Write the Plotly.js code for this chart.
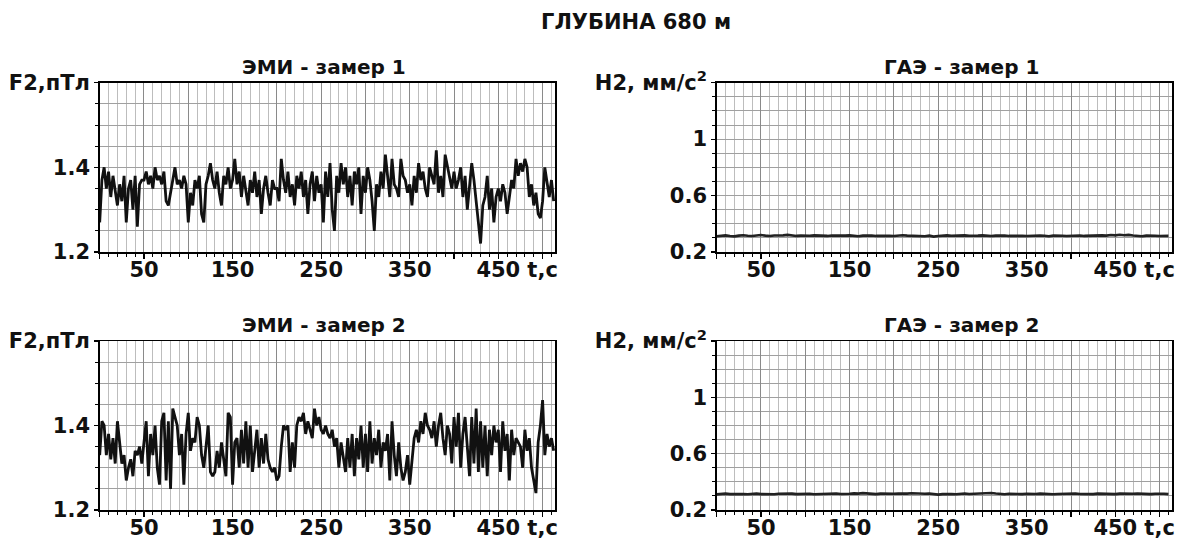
<!DOCTYPE html>
<html>
<head>
<meta charset="utf-8">
<script src="https://cdn.plot.ly/plotly-3.0.1.min.js"></script>
<style>
html,body{margin:0;padding:0;background:#fff;}
#chart{width:1186px;height:539px;}
</style>
</head>
<body>
<div id="chart"></div>
<script>
// ---- data ----
const mainTitle = "ГЛУБИНА 680 м";
const panelTitles = ["ЭМИ - замер 1", "ГАЭ - замер 1", "ЭМИ - замер 2", "ГАЭ - замер 2"];
const emiStep = 2.5;   // s between samples
const gaeStep = 5;     // s between samples

const emi1 = [
1.27,1.37,1.40,1.35,1.39,1.33,1.38,1.34,1.31,1.36,
1.32,1.38,1.27,1.35,1.37,1.30,1.38,1.26,1.36,1.37,
1.37,1.39,1.36,1.38,1.35,1.40,1.37,1.38,1.36,1.39,
1.32,1.31,1.34,1.38,1.40,1.36,1.37,1.35,1.38,1.36,
1.27,1.34,1.31,1.37,1.35,1.38,1.29,1.27,1.36,1.38,
1.41,1.37,1.35,1.39,1.34,1.31,1.38,1.36,1.40,1.35,
1.37,1.42,1.36,1.39,1.33,1.38,1.35,1.31,1.37,1.34,
1.39,1.33,1.37,1.29,1.35,1.38,1.34,1.31,1.37,1.35,
1.35,1.32,1.42,1.37,1.34,1.39,1.33,1.36,1.31,1.38,
1.35,1.39,1.33,1.37,1.29,1.36,1.39,1.32,1.38,1.34,
1.36,1.27,1.39,1.33,1.41,1.30,1.25,1.38,1.34,1.41,
1.36,1.40,1.33,1.38,1.31,1.39,1.36,1.40,1.29,1.38,
1.34,1.40,1.37,1.32,1.25,1.36,1.33,1.39,1.35,1.43,
1.38,1.33,1.42,1.36,1.35,1.33,1.42,1.38,1.37,1.34,
1.36,1.31,1.38,1.34,1.41,1.37,1.39,1.35,1.33,1.40,
1.38,1.36,1.44,1.34,1.38,1.33,1.43,1.40,1.37,1.35,
1.39,1.35,1.37,1.40,1.33,1.38,1.30,1.36,1.41,1.37,
1.32,1.27,1.22,1.31,1.33,1.38,1.30,1.35,1.27,1.33,
1.35,1.32,1.36,1.34,1.29,1.33,1.37,1.35,1.42,1.38,
1.41,1.39,1.42,1.40,1.33,1.36,1.31,1.34,1.29,1.28,
1.32,1.40,1.36,1.33,1.37,1.32
];

const emi2 = [
1.33,1.41,1.40,1.33,1.38,1.32,1.37,1.31,1.41,1.35,
1.31,1.33,1.27,1.30,1.32,1.28,1.34,1.33,1.35,1.31,
1.37,1.41,1.28,1.38,1.33,1.40,1.30,1.26,1.41,1.43,
1.27,1.41,1.25,1.44,1.42,1.40,1.33,1.38,1.26,1.38,
1.43,1.34,1.37,1.36,1.42,1.40,1.33,1.30,1.35,1.40,
1.29,1.28,1.29,1.34,1.30,1.36,1.32,1.28,1.43,1.42,
1.26,1.36,1.37,1.30,1.39,1.31,1.41,1.30,1.40,1.29,
1.34,1.39,1.30,1.37,1.31,1.38,1.32,1.30,1.29,1.30,
1.27,1.28,1.35,1.40,1.39,1.40,1.29,1.36,1.30,1.40,
1.42,1.41,1.43,1.38,1.41,1.39,1.37,1.44,1.40,1.42,
1.39,1.38,1.40,1.38,1.37,1.39,1.35,1.37,1.30,1.36,
1.33,1.29,1.37,1.30,1.38,1.28,1.37,1.32,1.40,1.30,
1.38,1.29,1.41,1.31,1.37,1.33,1.39,1.30,1.36,1.34,
1.38,1.27,1.41,1.33,1.28,1.36,1.30,1.27,1.29,1.33,
1.26,1.32,1.37,1.39,1.36,1.41,1.38,1.43,1.40,1.39,
1.37,1.41,1.35,1.40,1.43,1.37,1.33,1.40,1.38,1.31,
1.42,1.35,1.43,1.30,1.38,1.42,1.35,1.28,1.42,1.31,
1.44,1.29,1.41,1.30,1.40,1.28,1.39,1.33,1.40,1.36,
1.39,1.29,1.41,1.34,1.38,1.27,1.39,1.33,1.37,1.36,
1.35,1.30,1.39,1.34,1.37,1.30,1.27,1.24,1.36,1.40,
1.46,1.33,1.38,1.35,1.37,1.34
];

const gae1 = [
0.312,0.315,0.318,0.314,0.311,0.316,0.319,0.315,0.313,0.317,
0.320,0.316,0.313,0.317,0.315,0.318,0.321,0.317,0.314,0.316,
0.313,0.315,0.318,0.316,0.312,0.314,0.317,0.315,0.313,0.316,
0.318,0.315,0.312,0.316,0.319,0.317,0.314,0.316,0.318,0.315,
0.313,0.316,0.319,0.316,0.314,0.317,0.315,0.312,0.316,0.309,
0.313,0.316,0.318,0.315,0.317,0.321,0.318,0.315,0.313,0.316,
0.318,0.315,0.313,0.316,0.319,0.317,0.314,0.316,0.318,0.315,
0.313,0.316,0.314,0.317,0.315,0.312,0.316,0.318,0.315,0.313,
0.316,0.319,0.317,0.314,0.316,0.313,0.315,0.318,0.316,0.320,
0.318,0.322,0.319,0.321,0.317,0.314,0.312,0.316,0.318,0.315,
0.313,0.316,0.314
];

const gae2 = [
0.311,0.314,0.316,0.313,0.315,0.317,0.314,0.312,0.315,0.316,
0.313,0.311,0.309,0.312,0.315,0.317,0.314,0.316,0.313,0.315,
0.317,0.315,0.312,0.314,0.316,0.313,0.315,0.317,0.314,0.312,
0.315,0.318,0.316,0.320,0.317,0.315,0.313,0.316,0.314,0.312,
0.315,0.317,0.314,0.316,0.319,0.316,0.313,0.315,0.317,0.314,
0.309,0.313,0.316,0.314,0.312,0.315,0.317,0.314,0.316,0.313,
0.315,0.318,0.321,0.317,0.314,0.312,0.315,0.313,0.311,0.313,
0.315,0.312,0.314,0.316,0.313,0.315,0.312,0.314,0.316,0.313,
0.315,0.317,0.314,0.312,0.315,0.313,0.316,0.314,0.312,0.315,
0.313,0.316,0.314,0.312,0.315,0.317,0.314,0.316,0.313,0.315,
0.317,0.315,0.313
];

const xTickVals = [0,50,100,150,200,250,300,350,400,450,500];
const xTickText = ["\u00a0","50","\u00a0","150","\u00a0","250","\u00a0","350","\u00a0","450","t,c"];
const emiTickVals = [1.2,1.4,1.6];
const emiTickText = ["1.2","1.4","F2,пТл"];
const gaeTickVals = [0.2,0.6,1.0,1.4];
const gaeTickText = ["0.2","0.6","1","H2, мм/с<sup>2</sup>"];

// ---- styling ----
const FONT = "DejaVu Sans, Liberation Sans, Arial, sans-serif";
const W = 1186, H = 539;
const colL = [99.7/W, 555/W];
const colR = [716.7/W, 1172/W];
const rowT = [1-252/H, 1-82.7/H];
const rowB = [1-510/H, 1-341/H];

function xAxis(domain, anchor){
  return {
    domain: domain, anchor: anchor, range:[0,514],
    tickmode:'array', tickvals:xTickVals, ticktext:xTickText,
    ticks:'outside', ticklen:5, tickwidth:1.2, tickcolor:'#000',
    ticklabelstandoff:-7,
    showgrid:true, gridcolor:'#8a8a8a', gridwidth:1,
    minor:{tickmode:'linear', tick0:0, dtick:10, ticks:'outside', ticklen:3, tickwidth:1, tickcolor:'#000', showgrid:true, gridcolor:'#bdbdbd', gridwidth:1},
    showline:true, linecolor:'#000', linewidth:1.5, mirror:true, zeroline:false,
    tickfont:{family:FONT, size:21, color:'#111', weight:'bold'},
    fixedrange:true
  };
}
function yAxis(domain, anchor, range, vals, text, minorStep){
  return {
    domain: domain, anchor: anchor, range:range,
    tickmode:'array', tickvals:vals, ticktext:text,
    ticks:'outside', ticklen:4, tickwidth:1.2, tickcolor:'#000',
    showgrid:true, gridcolor:'#a0a0a0', gridwidth:1,
    minor:{tickmode:'linear', tick0:range[0], dtick:minorStep, ticks:'outside', ticklen:3, tickwidth:1, tickcolor:'#000', showgrid:true, gridcolor:'#a0a0a0', gridwidth:1},
    showline:true, linecolor:'#000', linewidth:1.5, mirror:true, zeroline:false,
    tickfont:{family:FONT, size:21, color:'#111', weight:'bold'},
    fixedrange:true
  };
}

const traces = [
  {x0:0, dx:emiStep, y:emi1, xaxis:'x',  yaxis:'y',  type:'scatter', mode:'lines', line:{color:'#111', width:2.8}, hoverinfo:'skip'},
  {x0:0, dx:gaeStep, y:gae1, xaxis:'x2', yaxis:'y2', type:'scatter', mode:'lines', line:{color:'#222', width:2.6}, hoverinfo:'skip'},
  {x0:0, dx:emiStep, y:emi2, xaxis:'x3', yaxis:'y3', type:'scatter', mode:'lines', line:{color:'#111', width:2.8}, hoverinfo:'skip'},
  {x0:0, dx:gaeStep, y:gae2, xaxis:'x4', yaxis:'y4', type:'scatter', mode:'lines', line:{color:'#222', width:2.6}, hoverinfo:'skip'}
];

const titleFont = {family:FONT, size:20, color:'#111', weight:'bold'};
const annotations = [
  {text:mainTitle, xref:'paper', yref:'paper', x:636/W, y:1-22/H, xanchor:'center', yanchor:'middle', showarrow:false, font:{family:FONT, size:21, color:'#111', weight:'bold'}},
  {text:panelTitles[0], xref:'paper', yref:'paper', x:(colL[0]+colL[1])/2-3/W, y:rowT[1], xanchor:'center', yanchor:'bottom', yshift:2, showarrow:false, font:titleFont},
  {text:panelTitles[1], xref:'paper', yref:'paper', x:(colR[0]+colR[1])/2+17/W, y:rowT[1], xanchor:'center', yanchor:'bottom', yshift:2, showarrow:false, font:titleFont},
  {text:panelTitles[2], xref:'paper', yref:'paper', x:(colL[0]+colL[1])/2-3/W, y:rowB[1], xanchor:'center', yanchor:'bottom', yshift:2, showarrow:false, font:titleFont},
  {text:panelTitles[3], xref:'paper', yref:'paper', x:(colR[0]+colR[1])/2+17/W, y:rowB[1], xanchor:'center', yanchor:'bottom', yshift:2, showarrow:false, font:titleFont}
];

const layout = {
  width:W, height:H,
  margin:{l:0, r:0, t:0, b:0},
  paper_bgcolor:'#fff', plot_bgcolor:'#fff',
  showlegend:false,
  font:{family:FONT},
  xaxis:  xAxis(colL, 'y'),
  yaxis:  yAxis(rowT, 'x',  [1.2,1.6], emiTickVals, emiTickText, 0.05),
  xaxis2: xAxis(colR, 'y2'),
  yaxis2: yAxis(rowT, 'x2', [0.2,1.4], gaeTickVals, gaeTickText, 0.1),
  xaxis3: xAxis(colL, 'y3'),
  yaxis3: yAxis(rowB, 'x3', [1.2,1.6], emiTickVals, emiTickText, 0.05),
  xaxis4: xAxis(colR, 'y4'),
  yaxis4: yAxis(rowB, 'x4', [0.2,1.4], gaeTickVals, gaeTickText, 0.1),
  annotations: annotations
};

Plotly.newPlot('chart', traces, layout, {staticPlot:true, displayModeBar:false});
</script>
</body>
</html>
